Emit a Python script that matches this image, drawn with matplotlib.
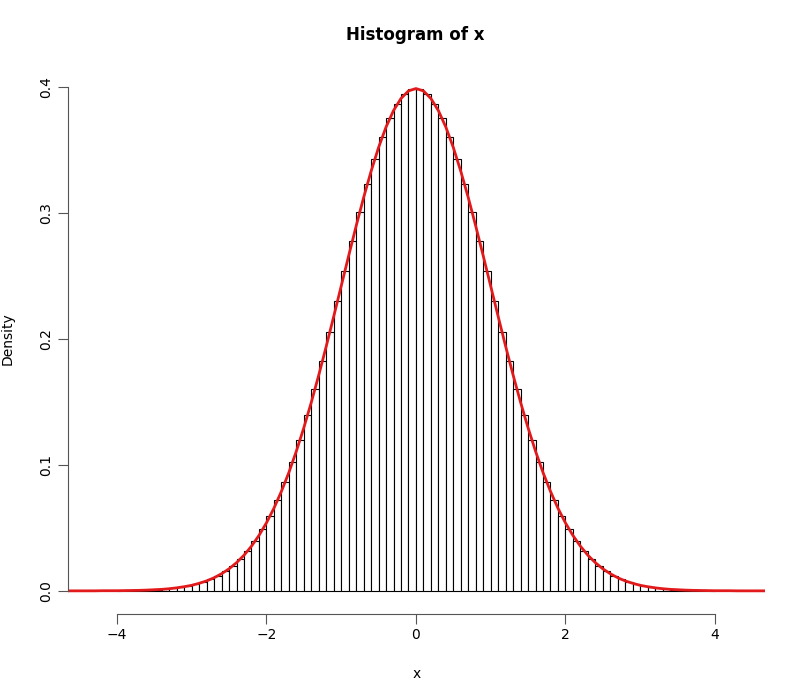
import numpy as np
import matplotlib
matplotlib.use("Agg")
import matplotlib.pyplot as plt

# right half of the histogram densities (bins of width 0.1, 0..4), mirrored for the left half
half = [0.3984, 0.3945, 0.3867, 0.3752, 0.3605, 0.3429, 0.3230, 0.3011, 0.2780, 0.2541,
        0.2299, 0.2059, 0.1826, 0.1604, 0.1394, 0.1200, 0.1023, 0.0863, 0.0721, 0.0596,
        0.0488, 0.0396, 0.0317, 0.0252, 0.0198, 0.0154, 0.0119, 0.0091, 0.0069, 0.0051,
        0.0038, 0.0028, 0.0020, 0.0015, 0.0010, 0.0007, 0.0005, 0.0004, 0.0002, 0.0002]
edges = np.round(np.arange(-4.0, 4.01, 0.1), 2)
heights = half[::-1] + half

# red density curve, sampled at 0.1 steps from 0 to 4.7 (symmetric)
curve_half = [0.3989, 0.3970, 0.3910, 0.3814, 0.3683, 0.3521, 0.3332, 0.3123, 0.2897, 0.2661,
              0.2420, 0.2179, 0.1942, 0.1714, 0.1497, 0.1295, 0.1109, 0.0940, 0.0790, 0.0656,
              0.0540, 0.0440, 0.0355, 0.0283, 0.0224, 0.0175, 0.0136, 0.0104, 0.0079, 0.0060,
              0.0044, 0.0033, 0.0024, 0.0017, 0.0012, 0.0009, 0.0006, 0.0004, 0.0003, 0.0002,
              0.0001, 0.0001, 0.0001, 0.0, 0.0, 0.0, 0.0, 0.0]
cx_half = np.round(np.arange(0, 4.75, 0.1), 2)
cx = np.concatenate([-cx_half[:0:-1], cx_half])
cy = curve_half[:0:-1] + curve_half

fig = plt.figure(figsize=(7.99, 6.95), dpi=100)
ax = fig.add_axes([68/799, 1-611/695, 697/799, 544/695])
ax.bar(edges[:-1], heights, width=0.1, align="edge", color="white", edgecolor="black", linewidth=0.8)
ax.plot(cx, cy, color="#e31a1c", linewidth=2)

ax.set_xlim(-4.655, 4.67)
ax.set_ylim(-0.016, 0.416)
for s in ["top", "right"]:
    ax.spines[s].set_visible(False)
ax.spines["left"].set_bounds(0, 0.4)
ax.spines["bottom"].set_bounds(-4, 4)
ax.spines["left"].set_position(("outward", 0))
ax.spines["bottom"].set_position(("outward", 2))
ax.set_xticks([-4, -2, 0, 2, 4])
ax.set_yticks([0.0, 0.1, 0.2, 0.3, 0.4])
ax.set_yticklabels(["0.0", "0.1", "0.2", "0.3", "0.4"], rotation=90, va="center")
ax.tick_params(length=7, labelsize=10, color="#555555")
ax.spines["left"].set_color("#555555")
ax.spines["bottom"].set_color("#555555")
ax.set_xlabel("x", fontsize=10, labelpad=18)
ax.set_ylabel("Density", fontsize=10, labelpad=18)
fig.text(415/799, 1-35/695, "Histogram of x", ha="center", va="center", fontsize=12, fontweight="bold")

fig.savefig("out.png", dpi=100)
